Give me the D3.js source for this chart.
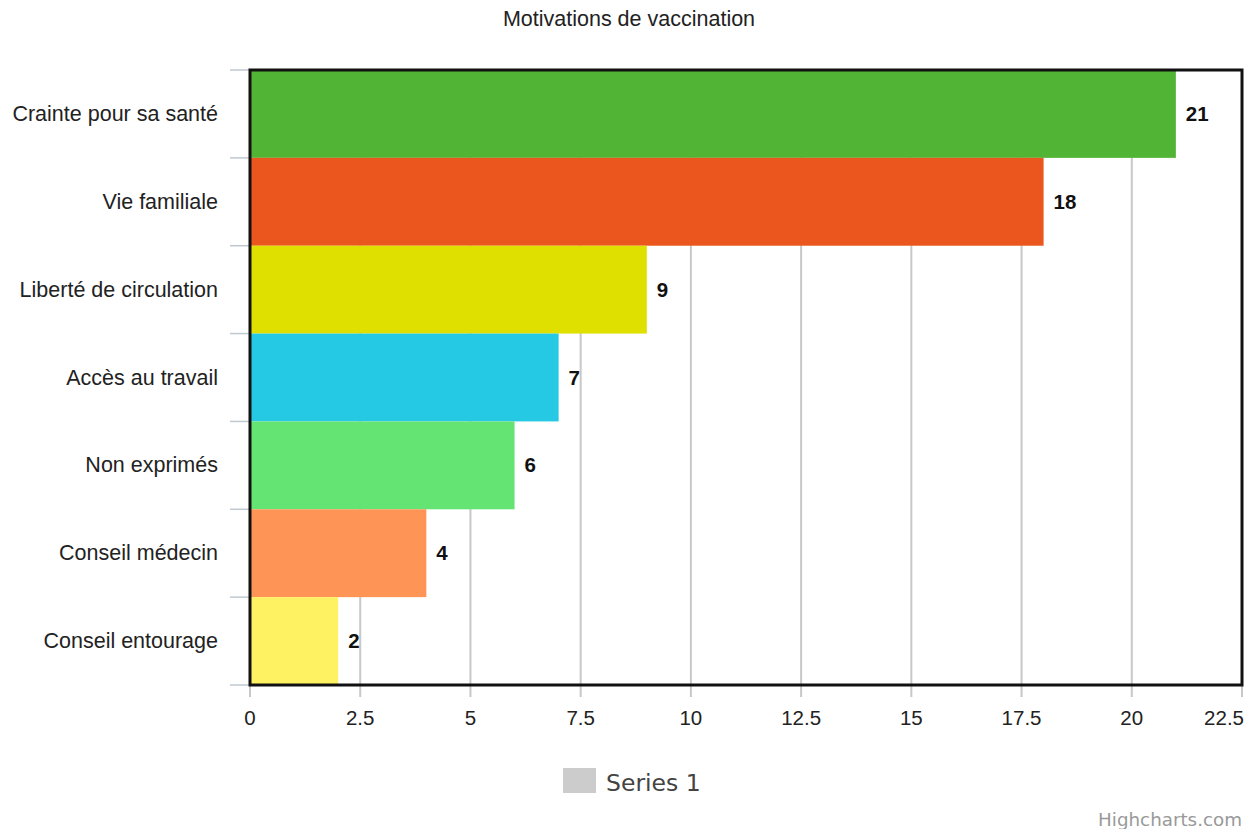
<!DOCTYPE html>
<html>
<head>
<meta charset="utf-8">
<script src="https://cdn.jsdelivr.net/npm/d3@7"></script>
<style>
  html, body { margin: 0; padding: 0; background: #fff; }
  svg { display: block; }
</style>
</head>
<body>
<svg id="chart" width="1252" height="829"></svg>
<script>
// Motivation categories and number of responses for each
const categories = [
  "Crainte pour sa santé",
  "Vie familiale",
  "Liberté de circulation",
  "Accès au travail",
  "Non exprimés",
  "Conseil médecin",
  "Conseil entourage"
];
const values = [21, 18, 9, 7, 6, 4, 2];
const barColors = ["#52b435", "#ea561d", "#dfe000", "#25c9e4", "#64e472", "#fe9557", "#fef262"];
const xTicks = [0, 2.5, 5, 7.5, 10, 12.5, 15, 17.5, 20, 22.5];
const xTickLabels = ["0", "2.5", "5", "7.5", "10", "12.5", "15", "17.5", "20", "22.5"];

const svg = d3.select("#chart");
const W = 1252, H = 829;
const plot = { left: 250, right: 1242, top: 70, bottom: 685 };
const sans = "'Liberation Sans', Arial, sans-serif";

const x = d3.scaleLinear().domain([0, 22.5]).range([plot.left, plot.right]);
const y = d3.scaleBand().domain(categories).range([plot.top, plot.bottom]).padding(0);

// Title
svg.append("text")
  .attr("x", W / 2 + 3).attr("y", 26)
  .attr("text-anchor", "middle")
  .attr("font-family", sans)
  .attr("font-size", 21.5)
  .attr("fill", "#222")
  .text("Motivations de vaccination");

// Vertical grid lines, extended below the plot as tick marks
svg.append("g").selectAll("line")
  .data(xTicks)
  .join("line")
  .attr("x1", d => x(d)).attr("x2", d => x(d))
  .attr("y1", plot.top).attr("y2", plot.bottom + 12)
  .attr("stroke", "#c8c8c8")
  .attr("stroke-width", 2);

// Category tick marks on the left
const bounds = categories.map(c => y(c)).concat([plot.bottom]);
svg.append("g").selectAll("line")
  .data(bounds)
  .join("line")
  .attr("x1", plot.left - 20).attr("x2", plot.left)
  .attr("y1", d => d).attr("y2", d => d)
  .attr("stroke", "#c0c8d0")
  .attr("stroke-width", 1.5);

// Bars
svg.append("g").selectAll("rect")
  .data(values)
  .join("rect")
  .attr("x", x(0))
  .attr("y", (d, i) => y(categories[i]))
  .attr("width", d => x(d) - x(0))
  .attr("height", y.bandwidth())
  .attr("fill", (d, i) => barColors[i]);

// Value labels at bar ends
svg.append("g").selectAll("text")
  .data(values)
  .join("text")
  .attr("x", d => x(d) + 10)
  .attr("y", (d, i) => y(categories[i]) + y.bandwidth() / 2 + 7)
  .attr("font-family", sans)
  .attr("font-size", 20.5)
  .attr("font-weight", "bold")
  .attr("fill", "#111")
  .text(d => d);

// Plot frame
svg.append("rect")
  .attr("x", plot.left).attr("y", plot.top)
  .attr("width", plot.right - plot.left).attr("height", plot.bottom - plot.top)
  .attr("fill", "none")
  .attr("stroke", "#111")
  .attr("stroke-width", 3);

// Category labels
svg.append("g").selectAll("text")
  .data(categories)
  .join("text")
  .attr("x", plot.left - 32)
  .attr("y", d => y(d) + y.bandwidth() / 2 + 7)
  .attr("text-anchor", "end")
  .attr("font-family", sans)
  .attr("font-size", 21.5)
  .attr("fill", "#222")
  .text(d => d);

// X axis labels
svg.append("g").selectAll("text")
  .data(xTicks)
  .join("text")
  .attr("x", d => d === 22.5 ? plot.right + 2 : x(d))
  .attr("y", 725)
  .attr("text-anchor", d => d === 22.5 ? "end" : "middle")
  .attr("font-family", sans)
  .attr("font-size", 20.5)
  .attr("fill", "#222")
  .text((d, i) => xTickLabels[i]);

// Legend
svg.append("rect")
  .attr("x", 563).attr("y", 768)
  .attr("width", 33).attr("height", 25)
  .attr("fill", "#cccccc");
svg.append("text")
  .attr("x", 606).attr("y", 791)
  .attr("font-family", "'DejaVu Sans', sans-serif")
  .attr("font-size", 23.5)
  .attr("fill", "#444")
  .text("Series 1");

// Credits
svg.append("text")
  .attr("x", 1242).attr("y", 826)
  .attr("text-anchor", "end")
  .attr("font-family", "'DejaVu Sans', sans-serif")
  .attr("font-size", 18.3)
  .attr("fill", "#999")
  .text("Highcharts.com");
</script>
</body>
</html>
